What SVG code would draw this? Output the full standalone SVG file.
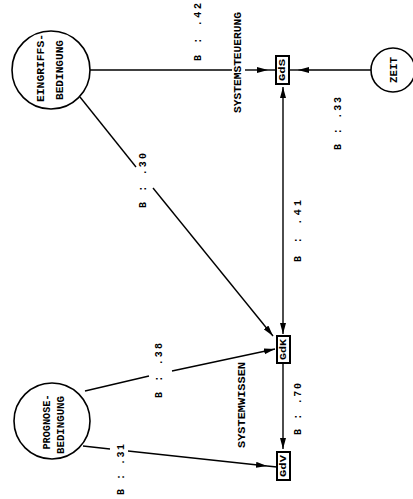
<svg xmlns="http://www.w3.org/2000/svg" width="413" height="499" viewBox="0 0 413 499">
<style>
.ln{stroke:#000;stroke-width:1.4;fill:none}
.circ{fill:#fff;stroke:#000;stroke-width:1.6}
.box{fill:#fff;stroke:#000;stroke-width:2}
.t{font-family:"Liberation Mono","DejaVu Sans Mono",monospace;fill:#000;text-anchor:middle;dominant-baseline:central;font-weight:bold}
.nt{font-size:10px}
.bt{font-size:9px}
.lb{font-size:10px}
</style>
<defs>
<marker id="arr" markerUnits="userSpaceOnUse" markerWidth="12" markerHeight="7" refX="11" refY="3" orient="auto-start-reverse">
<path d="M0,0 L11,3 L0,6 z" fill="#000"/>
</marker>
</defs>
<rect width="413" height="499" fill="#fff"/>
<g id="connectors">
<path class="ln" d="M89,70 H232"/>
<path class="ln" d="M245,70 H268" marker-end="url(#arr)"/>
<path class="ln" d="M268,70 H276"/>
<path class="ln" d="M371,70 H298" marker-end="url(#arr)"/>
<path class="ln" d="M298,70 H289"/>
<path class="ln" d="M283,87 V334" marker-start="url(#arr)" marker-end="url(#arr)"/>
<path class="ln" d="M283,362 V449" marker-end="url(#arr)"/>
<path class="ln" d="M80,97 L136,167"/>
<path class="ln" d="M153,188 L273,336" marker-end="url(#arr)"/>
<path class="ln" d="M85,391 L149,376"/>
<path class="ln" d="M172,371 L275,349" marker-end="url(#arr)"/>
<path class="ln" d="M83,446 L110,449"/>
<path class="ln" d="M128,451 L267,466" marker-end="url(#arr)"/>
<path class="ln" d="M267,466 L277,467"/>
</g>
<g id="eingriffs">
<circle class="circ" cx="51" cy="70" r="39"/>
<text class="t nt" transform="translate(41,68) rotate(-90)" textLength="68" lengthAdjust="spacingAndGlyphs">EINGRIFFS-</text>
<text class="t nt" transform="translate(60,70) rotate(-90)" textLength="60" lengthAdjust="spacingAndGlyphs">BEDINGUNG</text>
</g>
<g id="prognose">
<circle class="circ" cx="52" cy="421" r="38"/>
<text class="t nt" transform="translate(47,422) rotate(-90)" textLength="55" lengthAdjust="spacingAndGlyphs">PROGNOSE-</text>
<text class="t nt" transform="translate(61,425) rotate(-90)" textLength="58" lengthAdjust="spacingAndGlyphs">BEDINGUNG</text>
</g>
<g id="zeit">
<circle class="circ" cx="393" cy="70" r="22"/>
<text class="t nt" transform="translate(394,70) rotate(-90)" textLength="26" lengthAdjust="spacingAndGlyphs">ZEIT</text>
</g>
<g id="gds">
<rect class="box" x="276" y="56" width="13" height="28"/>
<text class="t bt" transform="translate(282.5,70) rotate(-90)" textLength="22" lengthAdjust="spacingAndGlyphs">GdS</text>
</g>
<g id="gdk">
<rect class="box" x="277" y="336" width="13" height="27"/>
<text class="t bt" transform="translate(283.5,349.5) rotate(-90)" textLength="21" lengthAdjust="spacingAndGlyphs">GdK</text>
</g>
<g id="gdv">
<rect class="box" x="277" y="452" width="13" height="28"/>
<text class="t bt" transform="translate(283.5,466) rotate(-90)" textLength="22" lengthAdjust="spacingAndGlyphs">GdV</text>
</g>
<g id="labels">
<text class="t lb" transform="translate(238,62.5) rotate(-90)" textLength="101" lengthAdjust="spacingAndGlyphs">SYSTEMSTEUERUNG</text>
<text class="t lb" transform="translate(242,405) rotate(-90)" textLength="86" lengthAdjust="spacingAndGlyphs">SYSTEMWISSEN</text>
<text class="t lb" transform="translate(198,32) rotate(-90)" textLength="58" lengthAdjust="spacing">B : .42</text>
<text class="t lb" transform="translate(338,123.5) rotate(-90)" textLength="53" lengthAdjust="spacing">B : .33</text>
<text class="t lb" transform="translate(298,231) rotate(-90)" textLength="62" lengthAdjust="spacing">B : .41</text>
<text class="t lb" transform="translate(298,409) rotate(-90)" textLength="52" lengthAdjust="spacing">B : .70</text>
<text class="t lb" transform="translate(143,180.5) rotate(-90)" textLength="55" lengthAdjust="spacing">B : .30</text>
<text class="t lb" transform="translate(159,370.5) rotate(-90)" textLength="55" lengthAdjust="spacing">B : .38</text>
<text class="t lb" transform="translate(121,469.5) rotate(-90)" textLength="51" lengthAdjust="spacing">B : .31</text>
</g>
</svg>
